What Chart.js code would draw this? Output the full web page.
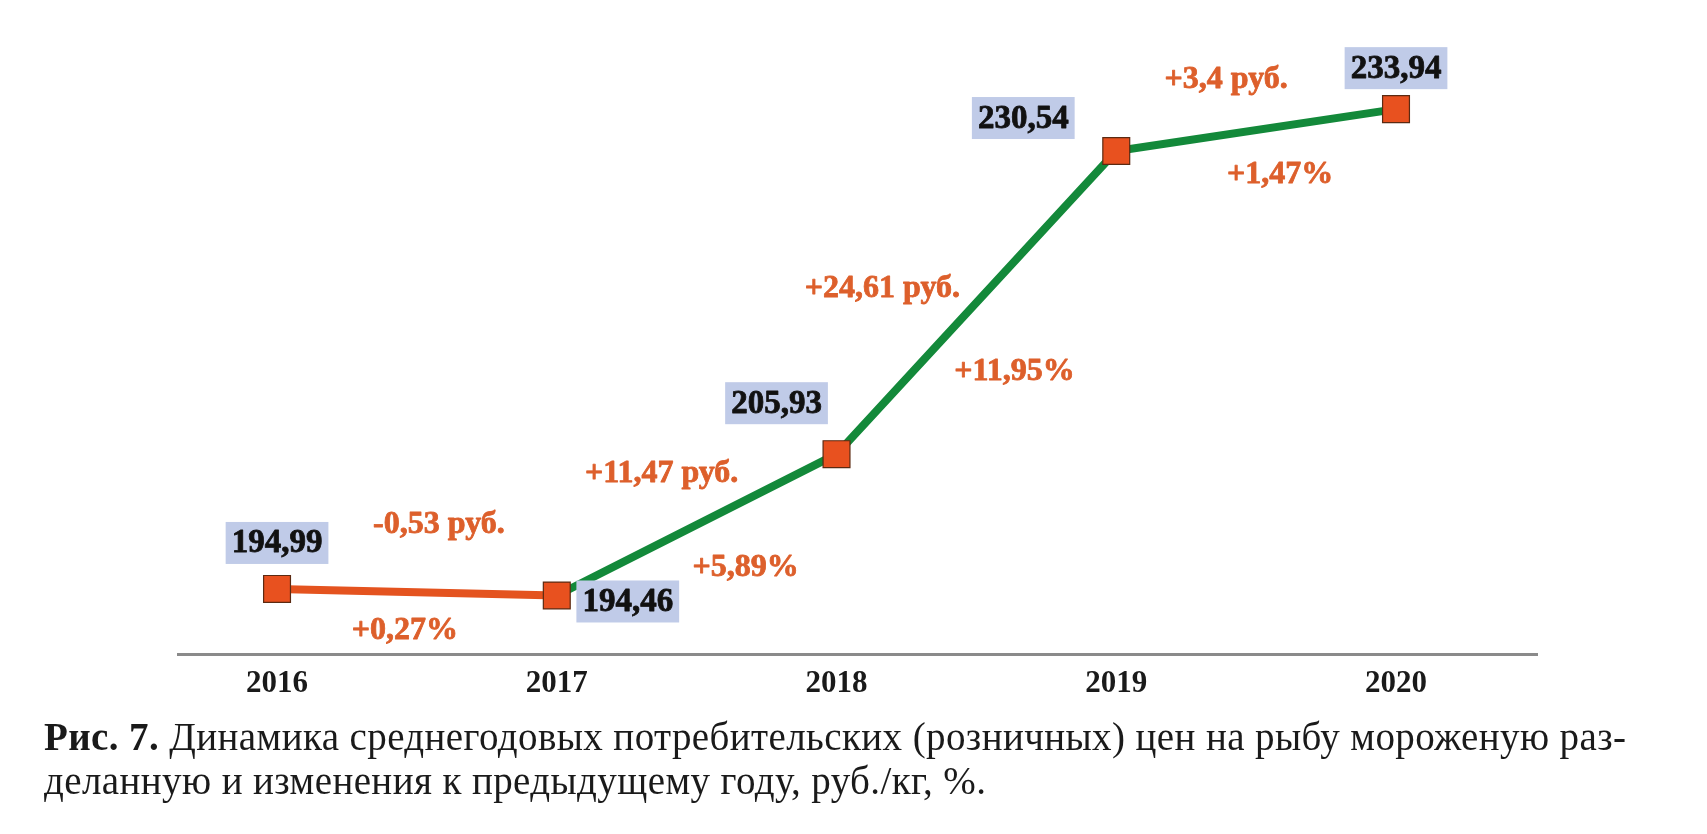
<!DOCTYPE html>
<html>
<head>
<meta charset="utf-8">
<script src="https://cdn.jsdelivr.net/npm/chart.js@4.4.1/dist/chart.umd.min.js"></script>
<style>
  html, body { margin: 0; padding: 0; background: #ffffff; }
  #wrap { position: relative; width: 1707px; height: 834px; overflow: hidden; }
  #chartBox { position: absolute; left: 0; top: 0; width: 1707px; height: 834px; }
  #caption {
    position: absolute; left: 44px; top: 715px; width: 1640px; white-space: nowrap;
    font-family: "Liberation Serif", "Times New Roman", serif;
    font-size: 39px; line-height: 44px; letter-spacing: 0.4px; color: #1a1a1a;
  }
  #caption b { font-weight: bold; }
</style>
</head>
<body>
<div id="wrap">
  <div id="chartBox"><canvas id="c"></canvas></div>
  <div id="caption"><b>Рис. 7.</b> Динамика среднегодовых потребительских (розничных) цен на рыбу мороженую раз-<br>деланную и изменения к предыдущему году, руб./кг, %.</div>
</div>
<script>
// ---- data ----
const years = [2016, 2017, 2018, 2019, 2020];
const prices = [194.99, 194.46, 205.93, 230.54, 233.94];
const priceLabels = ['194,99', '194,46', '205,93', '230,54', '233,94'];
const changeRub = ['-0,53 руб.', '+11,47 руб.', '+24,61 руб.', '+3,4 руб.'];
const changePct = ['+0,27%', '+5,89%', '+11,95%', '+1,47%'];

// ---- label placement (pixel offsets, style only) ----
const valueOffsets = [[0, -46], [71, 6], [-60, -51], [-93, -33], [0, -41]];
const rubOffsets = [[22, -67], [-35, -51], [-94, -14], [-30, -50]];
const pctOffsets = [[-12, 39], [49, 43], [38, 69], [24, 45]];

const ORANGE_LINE = '#e4531f';
const GREEN_LINE = '#13893a';
const MARKER = '#e8511f';
const TEXT_ORANGE = '#dd5f2b';
const BOX = '#c0cbe8';
const SERIF = '"Liberation Serif", "Times New Roman", serif';

function boldText(ctx, txt, x, y, color, sw) {
  ctx.fillStyle = color;
  ctx.strokeStyle = color;
  ctx.lineWidth = sw;
  ctx.lineJoin = 'round';
  ctx.strokeText(txt, x, y);
  ctx.fillText(txt, x, y);
}

const labelPlugin = {
  id: 'labels',
  afterDatasetsDraw(chart) {
    const ctx = chart.ctx;
    const meta = chart.getDatasetMeta(0);
    const pts = meta.data;
    ctx.save();
    ctx.textAlign = 'center';
    ctx.textBaseline = 'middle';
    // value boxes
    ctx.font = 'bold 33px ' + SERIF;
    pts.forEach((p, i) => {
      const cx = p.x + valueOffsets[i][0];
      const cy = p.y + valueOffsets[i][1];
      const w = ctx.measureText(priceLabels[i]).width + 12;
      const h = 42;
      ctx.fillStyle = BOX;
      ctx.fillRect(cx - w / 2, cy - h / 2, w, h);
      boldText(ctx, priceLabels[i], cx, cy + 1, '#111111', 0.8);
    });
    // change labels
    ctx.font = 'bold 32px ' + SERIF;
    for (let i = 0; i < pts.length - 1; i++) {
      const mx = (pts[i].x + pts[i + 1].x) / 2;
      const my = (pts[i].y + pts[i + 1].y) / 2;
      boldText(ctx, changeRub[i], mx + rubOffsets[i][0], my + rubOffsets[i][1], TEXT_ORANGE, 0.8);
      boldText(ctx, changePct[i], mx + pctOffsets[i][0], my + pctOffsets[i][1], TEXT_ORANGE, 0.8);
    }
    ctx.restore();
  }
};

new Chart(document.getElementById('c'), {
  type: 'line',
  data: {
    datasets: [{
      data: years.map((y, i) => ({ x: y, y: prices[i] })),
      borderWidth: 8,
      borderColor: GREEN_LINE,
      segment: {
        borderColor: (c) => c.p1DataIndex === 1 ? ORANGE_LINE : GREEN_LINE
      },
      pointStyle: 'rect',
      pointRadius: 19,
      pointHoverRadius: 19,
      pointBackgroundColor: MARKER,
      pointBorderColor: '#5b2a12',
      pointBorderWidth: 1.2,
      tension: 0,
      clip: false
    }]
  },
  options: {
    responsive: true,
    maintainAspectRatio: false,
    animation: false,
    layout: { padding: { left: 178, right: 170, top: 20, bottom: 120 } },
    plugins: { legend: { display: false }, tooltip: { enabled: false } },
    scales: {
      x: {
        type: 'linear',
        min: 2015.646,
        max: 2020.504,
        afterFit: (s) => { s.height = 60; },
        afterBuildTicks: (s) => { s.ticks = years.map(v => ({ value: v })); },
        grid: { display: false, drawTicks: false },
        border: { display: true, color: '#8a8a8a', width: 3 },
        ticks: {
          padding: 11,
          color: '#1a1a1a',
          font: { family: SERIF, size: 31, weight: 'bold' },
          callback: (v) => String(v)
        }
      },
      y: {
        display: false,
        min: 189.71,
        max: 241.16
      }
    }
  },
  plugins: [labelPlugin]
});
</script>
</body>
</html>
